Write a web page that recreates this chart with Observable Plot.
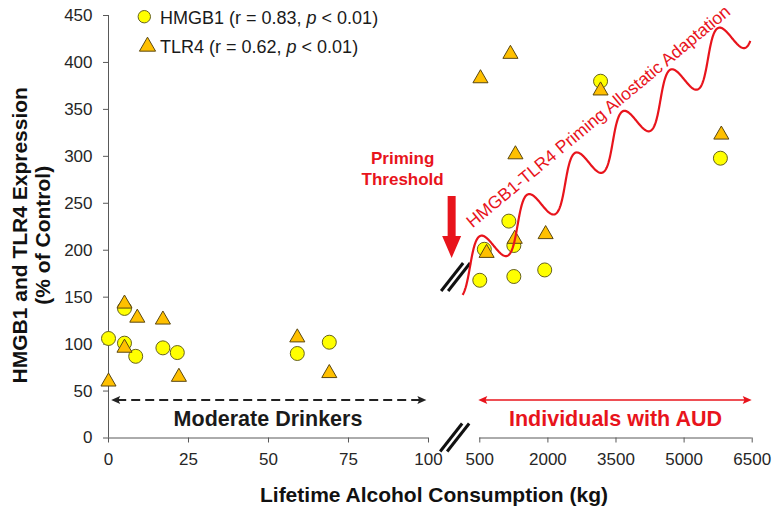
<!DOCTYPE html>
<html><head><meta charset="utf-8">
<script src="https://cdn.jsdelivr.net/npm/d3@7"></script>
<script src="https://cdn.jsdelivr.net/npm/@observablehq/plot@0.6"></script>
<style>
html,body{margin:0;padding:0;background:#fff;}
#chart{position:relative;width:773px;height:509px;}
</style></head><body><div id="chart"></div>
<script>
// ---- data (lifetime alcohol consumption in kg, expression in % of control)
const hmgbKg  = [0, 5, 5, 8.5, 17, 21.5, 59, 69, 500, 600, 1140, 1250, 1250, 1930, 3160, 5800];
const hmgbVal = [106, 138, 101, 87, 96, 91, 90, 102, 168, 201, 231, 205, 172, 179, 380, 298];
const tlrKg   = [0, 5, 5, 9, 17, 22, 59, 69, 515, 650, 1175, 1270, 1285, 1950, 3160, 5820];
const tlrVal  = [60, 96, 143, 128, 126, 65, 107, 69, 383, 197, 409, 212, 302, 217, 370, 323];
const xTicksLeft  = [0, 25, 50, 75, 100];
const xTicksRight = [500, 2000, 3500, 5000, 6500];
const yTicks = [0, 50, 100, 150, 200, 250, 300, 350, 400, 450];
const seriesNames = ["HMGB1", "TLR4"];
const seriesStats = ["r = 0.83", "r = 0.62"];

// ---- broken axis: 0-100 kg segment, gap, 500-6500 kg segment
const GAP_START = 116.03, RIGHT_SPAN = 85.13;
const brk = v => v <= 100 ? v : GAP_START + (v - 500) * RIGHT_SPAN / 6000;
const xTickVals = [...xTicksLeft, ...xTicksRight];
const labelByU = new Map(xTickVals.map(v => [brk(v), String(v)]));

const FONT = "'Liberation Sans', Arial, sans-serif";
const RED = "#e8141c";
const YEL = "#ffff00", YEL_S = "#66621e";
const ORG = "#ffc000", ORG_S = "#5a4712";

const hmgb = hmgbKg.map((k, i) => ({kg: k, v: hmgbVal[i]}));
const tlr = tlrKg.map((k, i) => ({kg: k, v: tlrVal[i]}));
const segs = [{lo: 0, hi: 100}, {lo: 500, hi: 6500}];

const TRI_R = 5.6, CIR_R = 7;

function head(g, x, y, dir, color, len = 9, hw = 4) {
  g.append("polygon")
    .attr("points", `${x},${y} ${x - dir * len},${y - hw} ${x - dir * len * 0.8},${y} ${x - dir * len},${y + hw}`)
    .attr("fill", color);
}

function txt(g, x, y, s, size, opts = {}) {
  return g.append("text").attr("x", x).attr("y", y).attr("text-anchor", opts.anchor || "middle")
    .attr("font-size", size).attr("font-weight", opts.bold ? "bold" : null)
    .attr("fill", opts.fill || "#111").text(s);
}

function annotations(index, scales, values, dims) {
  const X = u => scales.x(u), Y = v => scales.y(v);
  const g = d3.create("svg:g").attr("font-family", FONT);
  const ml = dims.marginLeft, mt = dims.marginTop;

  // legend
  const lg = g.append("g");
  lg.append("circle").attr("cx", ml + 36.3).attr("cy", mt + 1.7).attr("r", 6.2)
    .attr("fill", YEL).attr("stroke", YEL_S);
  lg.append("path").attr("d", d3.symbol(d3.symbolTriangle, Math.PI * 6 * 6)())
    .attr("transform", `translate(${ml + 39.5},${mt + 31.5})`)
    .attr("fill", ORG).attr("stroke", ORG_S);
  [0, 1].forEach(i => {
    const t = lg.append("text").attr("x", ml + 52).attr("y", mt + 8.5 + i * 29.5)
      .attr("text-anchor", "start").attr("font-size", 18).attr("fill", "#1a1a1a");
    t.append("tspan").text(`${seriesNames[i]} (${seriesStats[i]}, `);
    t.append("tspan").attr("font-style", "italic").text("p");
    t.append("tspan").text(" < 0.01)");
  });

  // moderate drinkers arrow
  const yA = Y(40);
  const x0 = X(brk(1)), x1 = X(brk(99.5));
  g.append("line").attr("x1", x0 + 6).attr("x2", x1 - 6).attr("y1", yA).attr("y2", yA)
    .attr("stroke", "#222").attr("stroke-width", 2).attr("stroke-dasharray", "9,5");
  head(g, x0, yA, -1, "#222");
  head(g, x1, yA, 1, "#222");
  txt(g, X(brk(50)), Y(12.6), "Moderate Drinkers", 21.5, {bold: true, fill: "#1a1a1a"});

  // AUD arrow
  const r0 = X(brk(500)) - 1, r1 = X(brk(6500));
  g.append("line").attr("x1", r0 + 5).attr("x2", r1 - 5).attr("y1", yA).attr("y2", yA)
    .attr("stroke", RED).attr("stroke-width", 1.6);
  head(g, r0, yA, -1, RED);
  head(g, r1, yA, 1, RED);
  txt(g, X(brk(3500)), Y(12.6), "Individuals with AUD", 21.5, {bold: true, fill: RED});

  // break marks
  const gx = (X(brk(100)) + X(brk(500))) / 2 + 1;
  const brkMark = (cx, cy) => {
    [-3.5, 3.5].forEach(o => {
      g.append("line").attr("x1", cx + o - 11).attr("y1", cy + 14).attr("x2", cx + o + 11).attr("y2", cy - 14)
        .attr("stroke", "#111").attr("stroke-width", 3);
    });
  };
  brkMark(gx, Y(0));
  brkMark(gx + 1, 277);

  // priming threshold label + arrow
  txt(g, gx - 52, 164, "Priming", 17, {bold: true, fill: RED});
  txt(g, gx - 52, 185, "Threshold", 17, {bold: true, fill: RED});
  const ax = gx - 3;
  g.append("polygon")
    .attr("points", `${ax - 4},196 ${ax + 4},196 ${ax + 4},236 ${ax + 9.5},236 ${ax},258 ${ax - 9.5},236 ${ax - 4},236`)
    .attr("fill", RED);

  // wave (schematic)
  const pts = [];
  for (let x = gx + 5; x <= X(brk(6500)) - 4; x += 0.5) {
    const th = 2 * Math.PI * (x - 470) / 47.6;
    const y = 256.2 - 0.874 * (x - 482) - 19.5 * Math.sin(th);
    pts.push([x - 3 * Math.sin(th), y]);
  }
  g.append("path").attr("d", d3.line()(pts)).attr("fill", "none")
    .attr("stroke", RED).attr("stroke-width", 2.2);

  g.append("text").attr("transform", "translate(602,121) rotate(-39.7)")
    .attr("text-anchor", "middle").attr("font-size", 17.5).attr("fill", RED)
    .text("HMGB1-TLR4 Priming Allostatic Adaptation");

  // axis titles
  const yc = (Y(0) + Y(450)) / 2 + 9;
  g.append("text").attr("transform", `translate(20,${yc}) rotate(-90)`)
    .attr("text-anchor", "middle").attr("dy", "0.35em").attr("font-size", 21).attr("font-weight", "bold")
    .attr("fill", "#111").text("HMGB1 and TLR4 Expression");
  g.append("text").attr("transform", `translate(43,${yc}) rotate(-90)`)
    .attr("text-anchor", "middle").attr("dy", "0.35em").attr("font-size", 21).attr("font-weight", "bold")
    .attr("fill", "#111").text("(% of Control)");
  txt(g, 434, 502, "Lifetime Alcohol Consumption (kg)", 21, {bold: true});
  return g.node();
}

const plot = Plot.plot({
  width: 773, height: 509,
  marginLeft: 108, marginRight: 21.3, marginTop: 15, marginBottom: 71.5,
  style: {fontFamily: FONT, background: "#fff", color: "#262626", overflow: "visible"},
  x: {type: "linear", domain: [0, brk(6500)], axis: null},
  y: {domain: [0, 450], axis: null},
  marks: [
    Plot.axisX(xTickVals.map(brk), {anchor: "bottom", tickSize: 5, tickPadding: 10, fontSize: 17,
      tickFormat: u => labelByU.get(u), label: null, stroke: "#595959"}),
    Plot.axisY(yTicks, {anchor: "left", tickSize: 5, tickPadding: 11, fontSize: 17, label: null, stroke: "#595959"}),
    Plot.ruleY(segs, {y: () => 0, x1: d => brk(d.lo), x2: d => brk(d.hi), stroke: "#595959"}),
    Plot.ruleX([0], {x: () => 0, y1: () => 0, y2: () => 450, stroke: "#595959"}),
    Plot.dot(hmgb, {x: d => brk(d.kg), y: "v", r: CIR_R, fill: YEL, stroke: YEL_S, strokeWidth: 1}),
    Plot.dot(tlr, {x: d => brk(d.kg), y: "v", r: TRI_R, symbol: "triangle", fill: ORG, stroke: ORG_S, strokeWidth: 1}),
    annotations
  ]
});
document.getElementById("chart").appendChild(plot);
</script></body></html>
